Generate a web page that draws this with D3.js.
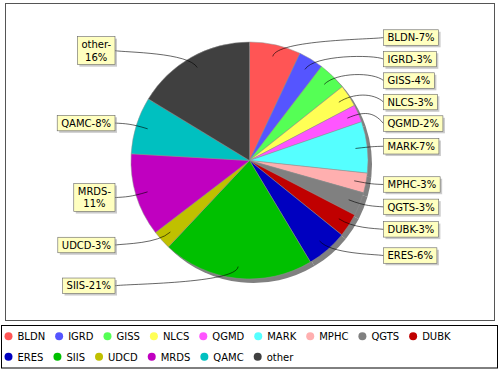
<!DOCTYPE html>
<html>
<head>
<meta charset="utf-8">
<script src="https://cdn.jsdelivr.net/npm/d3@7"></script>
<style>
  html, body { margin: 0; padding: 0; background: #ffffff; }
  svg { display: block; }
  text { font-family: "DejaVu Sans", sans-serif; font-size: 10px; fill: #000; }
</style>
</head>
<body>
<svg id="chart" width="500" height="370"></svg>
<script>
// ---- data ----
const categories = ["BLDN", "IGRD", "GISS", "NLCS", "QGMD", "MARK", "MPHC", "QGTS", "DUBK",
                    "ERES", "SIIS", "UDCD", "MRDS", "QAMC", "other"];
const values = [7.0, 3.4, 3.9, 3.0, 2.4, 7.0, 2.7, 3.2, 3.2, 5.6, 20.6, 2.6, 11.3, 7.8, 16.3];
const colors = ["#FF5555", "#5555FF", "#55FF55", "#FFFF55", "#FF55FF", "#55FFFF", "#FFAFAF",
                "#808080", "#C00000", "#0000C0", "#00C000", "#C0C000", "#C000C0", "#00C0C0", "#404040"];

// ---- layout ----
const svg = d3.select("#chart");
const W = 500, H = 370;
const cx = 249.5, cy = 160.5, r = 118.5;
const linkR = 124;          // dog-leg ring
const labelR = 126;         // label ellipse radius (vertical)
const linkPct = 0.9;
const rightX = 383.5, leftX = 115;
const lineH = 12.5, padV = 1.5, padH = 4, minGap = 6;

svg.append("rect").attr("width", W).attr("height", H).attr("fill", "#fff");
// plot outline
svg.append("rect").attr("x", 5.5).attr("y", 3.5).attr("width", 489).attr("height", 317)
  .attr("fill", "#fff").attr("stroke", "#555").attr("stroke-width", 1);

const total = d3.sum(values);
const pie = d3.pie().sort(null).value(d => d)(values);
const arc = d3.arc().innerRadius(0).outerRadius(r);

const g = svg.append("g");
// shadow
g.append("g").attr("transform", `translate(${cx + 4},${cy + 4})`)
  .selectAll("path").data(pie).join("path")
  .attr("d", arc).attr("fill", "#808080");
// slices
g.append("g").attr("transform", `translate(${cx},${cy})`)
  .selectAll("path").data(pie).join("path")
  .attr("d", arc).attr("fill", (d, i) => colors[i])
  .attr("stroke", "#909090").attr("stroke-width", 0.5);

// ---- labels ----
const measure = svg.append("text").attr("x", -1000).attr("y", -1000);
function textW(s) { measure.text(s); return measure.node().getComputedTextLength(); }
// wrap width: just wider than the widest label kept on one line
const wrapW = textW("QGMD-2%") + 0.3;

const recs = pie.map((p, i) => {
  const a = (p.startAngle + p.endAngle) / 2;
  const txt = categories[i] + "-" + Math.round(values[i] / total * 100) + "%";
  let lines = [txt];
  if (textW(txt) > wrapW) {
    const k = txt.indexOf("-");
    lines = [txt.slice(0, k + 1), txt.slice(k + 1)];
  }
  const lw = lines.map(textW);
  const bw = d3.max(lw) + 2 * padH;
  const bh = lines.length * lineH + 2 * padV;
  return { i, a, lines, lw, bw, bh, right: Math.sin(a) > 0,
           y: cy - Math.cos(a) * labelR };
});
measure.remove();

function distribute(list, minY, maxY) {
  list.sort((p, q) => p.y - q.y);
  for (let k = 1; k < list.length; k++) {
    const p = list[k - 1], q = list[k];
    const need = p.y + p.bh / 2 + minGap + q.bh / 2;
    if (q.y < need) q.y = need;
  }
  const last = list[list.length - 1];
  if (last && last.y + last.bh / 2 > maxY) {
    last.y = maxY - last.bh / 2;
    for (let k = list.length - 2; k >= 0; k--) {
      const p = list[k], q = list[k + 1];
      const lim = q.y - q.bh / 2 - minGap - p.bh / 2;
      if (p.y > lim) p.y = lim;
    }
  }
}
distribute(recs.filter(d => d.right), 8, 316);
distribute(recs.filter(d => !d.right), 8, 316);

const links = svg.append("g");
const boxes = svg.append("g");
recs.forEach(d => {
  const sx = Math.sin(d.a), cyy = Math.cos(d.a);
  const linkX = cx + sx * r * linkPct, linkY = cy - cyy * r * linkPct;
  const elbowX = cx + sx * linkR, elbowY = cy - cyy * linkR;
  const anchorX = d.right ? cx + linkR : cx - linkR;
  const targetX = d.right ? rightX : leftX;
  const targetY = d.y;
  const path = d3.path();
  path.moveTo(targetX, targetY);
  path.bezierCurveTo(anchorX, elbowY, elbowX, elbowY, linkX, linkY);
  links.append("path").attr("d", path.toString())
    .attr("fill", "none").attr("stroke", "#000").attr("stroke-width", 0.6);

  const bx = d.right ? targetX : targetX - d.bw;
  const by = targetY - d.bh / 2;
  boxes.append("rect").attr("x", bx + 2).attr("y", by + 2)
    .attr("width", d.bw).attr("height", d.bh).attr("fill", "rgba(151,151,151,0.5)");
  boxes.append("rect").attr("x", bx).attr("y", by)
    .attr("width", d.bw).attr("height", d.bh)
    .attr("fill", "#FFFFC0").attr("stroke", "#666").attr("stroke-width", 0.6);
  d.lines.forEach((s, j) => {
    boxes.append("text")
      .attr("x", bx + d.bw / 2).attr("text-anchor", "middle")
      .attr("y", by + padV + j * lineH + 9.9)
      .text(s);
  });
});

// ---- legend ----
svg.append("rect").attr("x", 1.5).attr("y", 325.5).attr("width", 496).attr("height", 42.5)
  .attr("fill", "#fff").attr("stroke", "#000").attr("stroke-width", 1);
const leg = svg.append("g");
const rowY = [336.3, 356.8];
let lx = 4.5, row = 0;
categories.forEach((c, i) => {
  const t = leg.append("text").text(c);
  const tw = t.node().getComputedTextLength();
  if (lx + 13 + tw > 495) { row++; lx = 4.5; }
  leg.append("circle").attr("cx", lx + 4).attr("cy", rowY[row]).attr("r", 4)
    .attr("fill", colors[i]);
  t.attr("x", lx + 13).attr("y", rowY[row] + 3.7);
  lx = lx + 13 + tw + 10;
});
</script>
</body>
</html>
